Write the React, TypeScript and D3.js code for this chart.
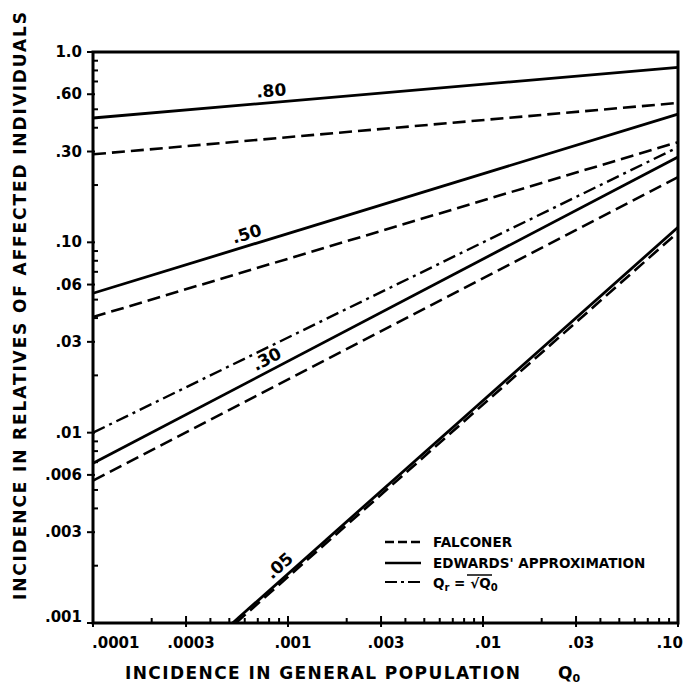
import React from "react";
import * as d3 from "d3";

// ---------- data ----------
const heritLabels = [".80", ".50", ".30", ".05"];
const labelQ0 = [0.00083, 0.00064, 0.00083, 0.00099];

const falconerQ0 = [[0.0001, 0.1], [0.0001, 0.1], [0.0001, 0.1], [0.00054, 0.1]];
const falconerQr = [[0.29, 0.54], [0.0405, 0.336], [0.0056, 0.22], [0.001, 0.113]];

const edwardsQ0 = [[0.0001, 0.1], [0.0001, 0.1], [0.0001, 0.1], [0.00052, 0.1]];
const edwardsQr = [[0.45, 0.83], [0.054, 0.472], [0.0069, 0.281], [0.001, 0.12]];

const sqrtQ0 = [0.0001, 0.1];
const sqrtQr = [0.01, 0.316];

const xTickValues = [0.0001, 0.0003, 0.001, 0.003, 0.01, 0.03, 0.1];
const xTickLabels = [".0001", ".0003", ".001", ".003", ".01", ".03", ".10"];
const yTickValues = [1, 0.6, 0.3, 0.1, 0.06, 0.03, 0.01, 0.006, 0.003, 0.001];
const yTickLabels = ["1.0", ".60", ".30", ".10", ".06", ".03", ".01", ".006", ".003", ".001"];

const legendLabels = ["FALCONER", "EDWARDS' APPROXIMATION"];

// ---------- layout ----------
const W = 686, H = 685;
const L = 93, R = 678, T = 52, B = 623;
const FONT = "'DejaVu Sans', 'Liberation Sans', sans-serif";

export default function App() {
  const x = d3.scaleLog().domain([1e-4, 0.1]).range([L, R]);
  const y = d3.scaleLog().domain([0.001, 1]).range([B, T]);
  const line = d3.line<[number, number]>().x(d => x(d[0])).y(d => y(d[1]));

  const near = (a: number, arr: number[]) => arr.some(v => Math.abs(v - a) / a < 1e-6);
  const xMinor = x.ticks().filter(v => !near(v, xTickValues));
  const yMinor = y.ticks().filter(v => !near(v, yTickValues));

  const dash = "13 6";
  const dashDot = "13 5 3 5";

  const pts = (q0: number[], qr: number[]): [number, number][] => q0.map((v, i) => [v, qr[i]]);
  const lastX = xTickValues.length - 1;

  return (
    <svg width={W} height={H} style={{ position: "absolute", left: 0, top: 0, background: "#fff" }} fontFamily={FONT}>
      <rect x={0} y={0} width={W} height={H} fill="#fff" />
      {/* curves */}
      <g fill="none" stroke="#000" strokeLinecap="butt">
        {falconerQ0.map((q0, i) => (
          <path key={"f" + i} d={line(pts(q0, falconerQr[i])) || ""} strokeWidth={2.6} strokeDasharray={dash} />
        ))}
        {edwardsQ0.map((q0, i) => (
          <path key={"e" + i} d={line(pts(q0, edwardsQr[i])) || ""} strokeWidth={2.8} />
        ))}
        <path d={line(pts(sqrtQ0, sqrtQr)) || ""} strokeWidth={2.4} strokeDasharray={dashDot} />
      </g>
      {/* curve labels */}
      {heritLabels.map((lab, i) => {
        const q0 = edwardsQ0[i], qr = edwardsQr[i];
        const x0 = x(q0[0]), y0 = y(qr[0]), x1 = x(q0[1]), y1 = y(qr[1]);
        const ang = Math.atan2(y1 - y0, x1 - x0);
        const px = x(labelQ0[i]);
        const py = y0 + (px - x0) * (y1 - y0) / (x1 - x0);
        const off = 11;
        const cx = px + off * Math.sin(ang);
        const cy = py - off * Math.cos(ang);
        return (
          <text key={lab} x={cx} y={cy} transform={`rotate(${(ang * 180) / Math.PI},${cx},${cy})`}
            textAnchor="middle" dominantBaseline="middle" fontSize={17} fontWeight="bold">{lab}</text>
        );
      })}
      {/* frame */}
      <rect x={L} y={T} width={R - L} height={B - T} fill="none" stroke="#000" strokeWidth={3} />
      {/* ticks */}
      <g stroke="#000" strokeWidth={2}>
        {xMinor.map((v, i) => <line key={"xm" + i} x1={x(v)} x2={x(v)} y1={B} y2={B - 5} />)}
        {xTickValues.map((v, i) => <line key={"xM" + i} x1={x(v)} x2={x(v)} y1={B + 4} y2={B - 7} />)}
        {yMinor.map((v, i) => <line key={"ym" + i} x1={L} x2={L + 5} y1={y(v)} y2={y(v)} />)}
        {yTickValues.map((v, i) => <line key={"yM" + i} x1={L - 6} x2={L + 2} y1={y(v)} y2={y(v)} />)}
      </g>
      <g fontSize={15} fontWeight="bold">
        {xTickValues.map((v, i) => (
          <text key={"xl" + i} x={i === 0 ? L - 1 : i === lastX ? W - 3 : x(v) + 5} y={648}
            textAnchor={i === 0 ? "start" : i === lastX ? "end" : "middle"}>{xTickLabels[i]}</text>
        ))}
        {yTickValues.map((v, i) => (
          <text key={"yl" + i} x={82} y={y(v) + (i === yTickValues.length - 1 ? -1 : 5)}
            textAnchor="end">{yTickLabels[i]}</text>
        ))}
      </g>
      {/* legend */}
      <g fontSize={13.5} fontWeight="bold" stroke="none">
        <line x1={385} x2={421} y1={542} y2={542} stroke="#000" strokeWidth={2.4} strokeDasharray="9 4" />
        <text x={433} y={547}>{legendLabels[0]}</text>
        <line x1={385} x2={421} y1={563} y2={563} stroke="#000" strokeWidth={2.4} />
        <text x={433} y={568}>{legendLabels[1]}</text>
        <line x1={385} x2={421} y1={582} y2={582} stroke="#000" strokeWidth={2.2} strokeDasharray="12 4 3 4" />
        <text x={433} y={588}>Q<tspan fontSize={10} dy={3}>r</tspan><tspan dy={-3}>{"  = √"}</tspan>Q<tspan fontSize={10} dy={3}>0</tspan></text>
        <line x1={467} x2={492} y1={575} y2={575} stroke="#000" strokeWidth={1.5} />
      </g>
      {/* axis titles */}
      <text x={125} y={679} fontSize={17} fontWeight="bold" textLength={395} lengthAdjust="spacing">
        INCIDENCE IN GENERAL POPULATION
      </text>
      <text x={558} y={679} fontSize={17} fontWeight="bold">Q<tspan fontSize={11} dy={3}>0</tspan></text>
      <text transform="translate(26,600) rotate(-90)" x={0} y={0} fontSize={17} fontWeight="bold"
        textLength={588} lengthAdjust="spacing">INCIDENCE IN RELATIVES OF AFFECTED INDIVIDUALS</text>
    </svg>
  );
}
